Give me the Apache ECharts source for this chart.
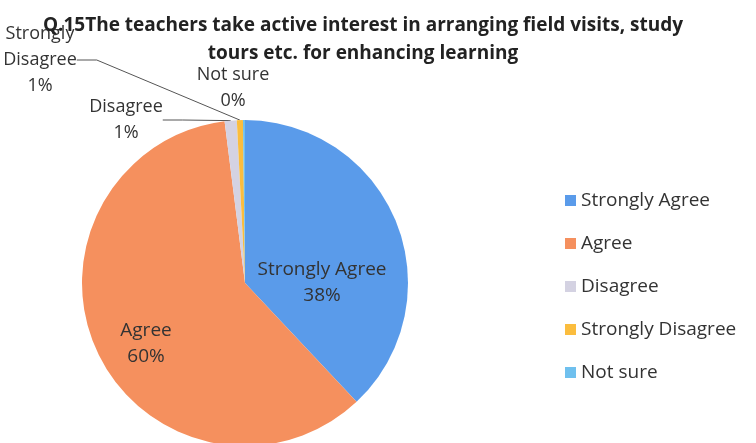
<!DOCTYPE html>
<html>
<head>
<meta charset="utf-8">
<script src="https://cdn.jsdelivr.net/npm/echarts@6/dist/echarts.min.js"></script>
<style>
  html, body { margin: 0; padding: 0; background: #fff; }
  #chart { width: 756px; height: 443px; }
</style>
</head>
<body>
<div id="chart"></div>
<script>
// answer categories and shares (%)
const categories = ['Strongly Agree', 'Agree', 'Disagree', 'Strongly Disagree', 'Not sure'];
const shares = [38, 60, 1.2, 0.6, 0.2];
const colors = ['#5a9bea', '#f5905e', '#d4d2e2', '#fbbd3e', '#6fc0ee'];

// where each data label sits (Excel-style manual placement)
const labelPos = [
  { x: 322, y: 283 },
  { x: 146, y: 344 },
  { x: 126, y: 120 },
  { x: 40, y: 60 },
  { x: 233, y: 88 }
];

const chart = echarts.init(document.getElementById('chart'));

chart.setOption({
  animation: false,
  title: {
    text: 'Q.15The teachers take active interest in arranging field visits, study\ntours etc. for enhancing learning',
    left: 358,
    top: 7,
    textAlign: 'center',
    textStyle: {
      fontFamily: 'Open Sans',
      fontSize: 19,
      fontWeight: 'bold',
      color: '#222',
      lineHeight: 28
    }
  },
  legend: {
    orient: 'vertical',
    left: 560,
    top: 186,
    itemWidth: 11,
    itemHeight: 11,
    itemGap: 24,
    icon: 'rect',
    data: categories,
    textStyle: {
      fontFamily: 'Open Sans',
      fontSize: 19,
      color: '#333'
    }
  },
  series: [{
    type: 'pie',
    radius: 163,
    center: [245, 283],
    startAngle: 90,
    clockwise: true,
    color: colors,
    itemStyle: { borderWidth: 0 },
    label: {
      show: true,
      formatter: '{b}\n{d}%',
      fontFamily: 'Open Sans',
      fontSize: 18,
      lineHeight: 26,
      color: '#333',
      align: 'center',
      overflow: 'none'
    },
    percentPrecision: 0,
    labelLine: {
      show: true,
      length: 10,
      length2: 20,
      lineStyle: { color: '#555', width: 1 }
    },
    labelLayout: function (params) {
      const p = labelPos[params.dataIndex];
      return { x: p.x, y: p.y, align: 'center', verticalAlign: 'middle' };
    },
    data: categories.map((name, i) => {
      const d = { name: name, value: shares[i] };
      if (i < 2) {
        d.label = { position: 'inside', fontSize: 19 };
        d.labelLine = { show: false };
      } else if (i === 3) {
        d.label = { formatter: 'Strongly\nDisagree\n{d}%' };
      } else if (i === 4) {
        d.labelLine = { show: false };
      }
      return d;
    })
  }]
});
</script>
</body>
</html>
